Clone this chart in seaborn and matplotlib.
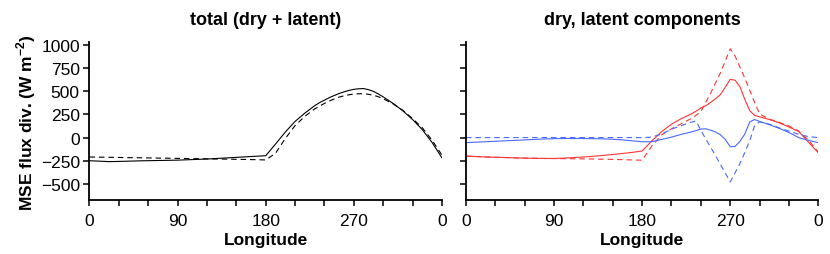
import numpy as np
import pandas as pd
import matplotlib
matplotlib.use("Agg")
import matplotlib.pyplot as plt
import seaborn as sns

# longitude grid (deg), finer around the peak
lon = [0, 10, 20, 30, 40, 50, 60, 70, 80, 90, 100, 110, 120, 130, 140, 150, 160, 170, 180,
       190, 200, 210, 220, 230,
       235, 240, 245, 250, 255, 260, 265, 270, 275, 280, 285, 290, 295, 300,
       310, 320, 330, 340, 350, 360]

# total MSE flux divergence (W m-2)
total_ctrl = [-250, -255, -260, -258, -255, -252, -250, -248, -246, -244, -240, -236, -232, -226, -220, -214, -208, -202, -196,
              -70, 60, 175, 265, 345,
              378, 405, 432, 455, 477, 495, 510, 522, 528, 530, 518, 500, 472, 440,
              370, 290, 195, 85, -55, -220]
total_pert = [-210, -212, -213, -215, -217, -218, -220, -222, -223, -225, -227, -228, -230, -232, -233, -235, -237, -239, -242,
              -170, -10, 130, 230, 310,
              340, 370, 395, 418, 438, 452, 463, 470, 474, 474, 468, 458, 442, 420,
              365, 295, 205, 105, -30, -190]

# dry component
dry_ctrl = [-200, -205, -210, -213, -216, -219, -222, -224, -226, -226, -222, -216, -210, -202, -193, -183, -172, -160, -145,
            -35, 65, 145, 205, 255,
            285, 320, 345, 380, 420, 465, 545, 630, 620, 550, 410, 290, 240, 225,
            195, 160, 115, 65, -50, -165]
dry_pert = [-200, -205, -210, -213, -216, -219, -222, -224, -226, -227, -228, -229, -230, -232, -234, -236, -239, -242, -245,
            -90, 30, 95, 150, 205,
            240, 280, 380, 480, 590, 700, 830, 960, 880, 760, 640, 510, 380, 255,
            200, 165, 125, 70, -30, -155]

# latent component
lat_ctrl = [-55, -50, -45, -40, -35, -30, -25, -20, -15, -12, -10, -10, -10, -12, -14, -18, -25, -35, -45,
            -45, -20, 5, 35, 60,
            75, 92, 95, 80, 60, 30, -20, -100, -95, -40, 40, 170, 195, 175,
            140, 100, 55, 0, -30, -55]
lat_pert = [0, 0, 0, 0, 0, 0, 0, 0, 0, 0, 0, 0, 0, 0, 0, 0, 0, 0, 0,
            5, 40, 90, 130, 165,
            180, 80, -15, -105, -195, -290, -385, -480, -380, -280, -160, -30, 130, 170,
            145, 105, 70, 35, 10, 0]

xtick_vals = list(range(0, 361, 30))
xtick_labels = ["0", "", "", "90", "", "", "180", "", "", "270", "", "", "0"]
ytick_vals = [-500, -250, 0, 250, 500, 750, 1000]

sns.set_style("ticks")
plt.rcParams['font.family'] = ['Liberation Sans', 'DejaVu Sans']
plt.rcParams['mathtext.fontset'] = 'custom'
plt.rcParams['mathtext.rm'] = 'Liberation Sans'
plt.rcParams['mathtext.bf'] = 'Liberation Sans:bold'
plt.rcParams['axes.unicode_minus'] = True
plt.rcParams['text.color'] = 'black'
plt.rcParams['axes.labelcolor'] = 'black'
plt.rcParams['xtick.color'] = 'black'
plt.rcParams['ytick.color'] = 'black'

fig = plt.figure(figsize=(8.3, 2.55), dpi=100)
ax1 = fig.add_axes([0.1078, 0.21, 0.4247, 0.62])
ax2 = fig.add_axes([0.5614, 0.21, 0.4245, 0.62])

lw = 0.8
dash = (0, (5, 3.5))
red = '#ff3535'
blue = '#4a68ff'

sns.lineplot(x=lon, y=total_ctrl, ax=ax1, color='black', linewidth=lw)
sns.lineplot(x=lon, y=total_pert, ax=ax1, color='black', linewidth=lw, linestyle=dash)

sns.lineplot(x=lon, y=dry_ctrl, ax=ax2, color=red, linewidth=lw)
sns.lineplot(x=lon, y=dry_pert, ax=ax2, color=red, linewidth=lw, linestyle=dash)
sns.lineplot(x=lon, y=lat_ctrl, ax=ax2, color=blue, linewidth=lw)
sns.lineplot(x=lon, y=lat_pert, ax=ax2, color=blue, linewidth=lw, linestyle=dash)

for ax in (ax1, ax2):
    ax.set_xlim(0, 360)
    ax.set_ylim(-680, 1030)
    ax.set_xticks(xtick_vals)
    ax.set_xticklabels(xtick_labels)
    ax.set_yticks(ytick_vals)
    ax.tick_params(axis='both', direction='out', length=4, width=1.1, labelsize=12.5, colors='black')
    ax.tick_params(axis='x', pad=5)
    ax.tick_params(axis='y', pad=3)
    for s in ('top', 'right'):
        ax.spines[s].set_visible(False)
    for s in ('left', 'bottom'):
        ax.spines[s].set_linewidth(1.3)
        ax.spines[s].set_color('black')
    ax.set_xlabel("Longitude", fontsize=12.5, fontweight='bold', labelpad=3)

ax2.set_yticklabels([])
ax2.set_ylabel("")
ax1.set_ylabel(r"MSE flux div. (W m$^{\mathbf{-2}}$)", fontsize=12.5, fontweight='bold', labelpad=2)

ax1.set_title("total (dry + latent)", fontsize=13, fontweight='bold', pad=13)
ax2.set_title("dry, latent components", fontsize=13, fontweight='bold', pad=13)

fig.savefig("out.png", dpi=100)
